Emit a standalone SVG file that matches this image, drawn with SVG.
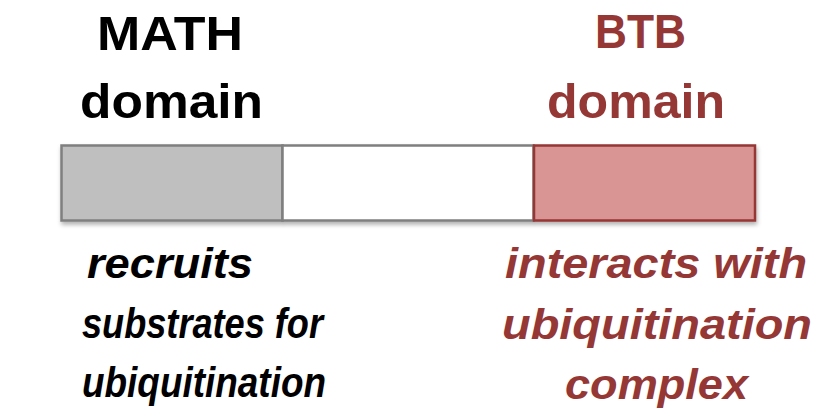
<svg xmlns="http://www.w3.org/2000/svg" width="824" height="415" viewBox="0 0 824 415">
<defs>
<filter id="sh" x="-10%" y="-20%" width="120%" height="150%">
<feDropShadow dx="1" dy="3" stdDeviation="2" flood-color="#000" flood-opacity="0.3"/>
</filter>
</defs>
<style>
.t{font-family:"Liberation Sans",Arial,sans-serif;font-weight:bold;font-size:48px}
.i{font-family:"Liberation Sans",Arial,sans-serif;font-weight:bold;font-style:italic;font-size:43px}
.blk{fill:#000}
.red{fill:#953735}
.box{stroke-width:2.5}
</style>
<rect width="824" height="415" fill="#fff"/>
<g id="bar" filter="url(#sh)">
<g id="math-box"><rect class="box" x="61.5" y="145.5" width="221" height="75" fill="#bfbfbf" stroke="#7f7f7f"/></g>
<g id="linker-box"><rect class="box" x="282.5" y="145.5" width="251" height="75" fill="#fff" stroke="#7f7f7f"/></g>
<g id="btb-box"><rect class="box" x="534" y="145.5" width="221" height="75" fill="#d99594" stroke="#953735"/></g>
</g>
<g id="math-label">
<text class="t blk" x="97" y="50" textLength="146" lengthAdjust="spacingAndGlyphs">MATH</text>
<text class="t blk" x="80" y="118" textLength="183" lengthAdjust="spacingAndGlyphs">domain</text>
</g>
<g id="btb-label">
<text class="t red" x="595" y="48" textLength="91" lengthAdjust="spacingAndGlyphs">BTB</text>
<text class="t red" x="547" y="118" textLength="178" lengthAdjust="spacingAndGlyphs">domain</text>
</g>
<g id="math-desc">
<text class="i blk" x="87" y="278" textLength="166" lengthAdjust="spacingAndGlyphs">recruits</text>
<text class="i blk" x="82" y="338" textLength="241" lengthAdjust="spacingAndGlyphs">substrates for</text>
<text class="i blk" x="82" y="397" textLength="244" lengthAdjust="spacingAndGlyphs">ubiquitination</text>
</g>
<g id="btb-desc">
<text class="i red" x="505" y="278" textLength="302" lengthAdjust="spacingAndGlyphs">interacts with</text>
<text class="i red" x="502" y="339" textLength="310" lengthAdjust="spacingAndGlyphs">ubiquitination</text>
<text class="i red" x="565" y="399" textLength="183" lengthAdjust="spacingAndGlyphs">complex</text>
</g>
<g id="connectors"/>
</svg>
